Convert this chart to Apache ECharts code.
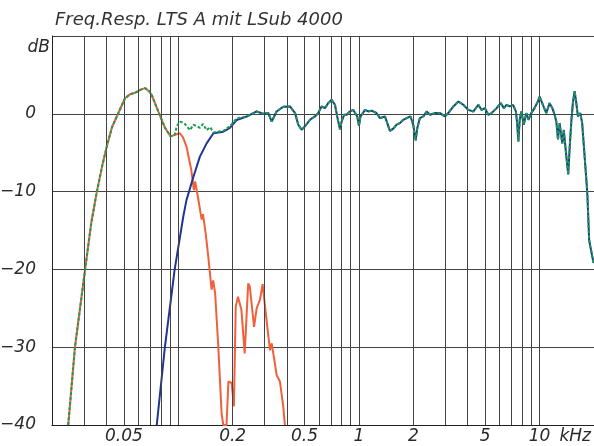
<!DOCTYPE html>
<html><head><meta charset="utf-8">
<script src="https://cdn.jsdelivr.net/npm/echarts/dist/echarts.min.js"></script>
<style>html,body{margin:0;padding:0;background:#fff}#c{width:594px;height:446px}</style>
</head><body><div id="c"></div>
<script>
// Frequencies in kHz, levels in dB
// common low-frequency part (subwoofer = sum)
const lowFreq = [0.0246, 0.0268, 0.0305, 0.0330, 0.0353, 0.0380, 0.0402, 0.0430, 0.0466, 0.0507, 0.0540, 0.0576, 0.0620, 0.0655, 0.0690, 0.0713, 0.0775, 0.0844, 0.0907, 0.0957];
const lowDb   = [-40, -30, -20, -14, -10.2, -6.6, -4.2, -1.7, 0.1, 2.0, 2.5, 2.7, 3.1, 3.3, 2.9, 2.4, 0.3, -1.8, -2.9, -2.7];
// subwoofer roll-off
const subTailFreq = [0.102, 0.106, 0.111, 0.118, 0.122, 0.124, 0.128, 0.1347, 0.137, 0.142, 0.1466, 0.1529, 0.156, 0.160, 0.1665, 0.1737, 0.1775, 0.1849, 0.1894, 0.1974, 0.2032, 0.208, 0.214, 0.2236, 0.2331, 0.2438, 0.2488, 0.2627, 0.2715, 0.2832, 0.293, 0.3079, 0.3218, 0.329, 0.3505, 0.3652, 0.381, 0.389];
const subTailDb   = [-2.5, -3.0, -4.2, -7.2, -9.8, -8.7, -10.5, -13.6, -12.9, -15.5, -18.4, -22.6, -21.4, -23.1, -29.9, -38.5, -40, -40, -34.4, -34.6, -37.6, -24.8, -23.5, -25.2, -30.8, -21.8, -22.2, -27.4, -25.0, -23.9, -21.9, -26.5, -30.4, -29.5, -33.6, -34.4, -37.6, -40];
// satellite high-pass rise
const satRiseFreq = [0.0760, 0.0844, 0.0954, 0.1066, 0.111, 0.1213, 0.1317, 0.1435, 0.1565, 0.1777, 0.193, 0.2104];
const satRiseDb   = [-40, -29.9, -20.1, -13.2, -11.1, -8.1, -5.5, -3.8, -2.5, -2.3, -1.8, -0.8];
// summed response in the crossover region
const xoverFreq = [0.098, 0.102, 0.108, 0.116, 0.1213, 0.1317, 0.137, 0.1435, 0.150, 0.1565, 0.1777, 0.193, 0.2104];
const xoverDb   = [-1.6, -1.0, -1.2, -2.1, -1.4, -1.8, -1.3, -2.1, -1.7, -2.4, -2.2, -1.6, -0.6];
// common high-frequency part (satellite = sum)
const highFreq = [0.239, 0.2715, 0.2954, 0.315, 0.329, 0.350, 0.381, 0.415, 0.443, 0.4615, 0.4817, 0.5025, 0.5356, 0.571, 0.595, 0.621, 0.6484, 0.676, 0.706, 0.7366, 0.758, 0.785, 0.802, 0.828, 0.855, 0.8917, 0.93, 0.95, 0.979, 1.0, 1.02, 1.08, 1.126, 1.175, 1.25, 1.307, 1.393, 1.484, 1.549, 1.616, 1.686, 1.759, 1.836, 1.93, 1.997, 2.06, 2.104, 2.174, 2.27, 2.37, 2.473, 2.632, 2.808, 2.99, 3.12, 3.33, 3.55, 3.78, 4.03, 4.30, 4.58, 4.77, 4.98, 5.20, 5.42, 5.78, 6.09, 6.34, 6.56, 6.84, 7.13, 7.39, 7.51, 7.63, 7.76, 7.93, 8.17, 8.44, 8.68, 8.99, 9.37, 9.78, 10.0, 10.43, 10.88, 11.36, 11.76, 12.11, 12.37, 12.64, 12.9, 13.35, 13.6, 14.0, 14.4, 14.68, 15.0, 15.3, 15.63, 15.96, 16.3, 16.8, 17.2, 17.8, 18.2, 18.4, 18.8, 19.1, 19.9];
const highDb   = [-0.35, 0.3, 0.0, 0.1, -1.0, 0.3, 0.9, 0.94, 0.09, -1.4, -2.06, -1.6, -0.77, -0.34, 0.09, 0.94, 0.73, 1.37, 1.8, 1.16, -0.34, -2.0, -0.99, -0.13, -0.13, 0.3, 0.5, 0.73, -0.34, -1.5, -0.34, 0.5, 0.3, 0.4, 0.1, -0.55, -0.34, -2.2, -1.9, -1.4, -1.2, -0.77, -0.55, -0.34, -1.4, -3.4, -1.84, -0.55, -0.34, 0.3, -0.13, 0.09, 0.1, -0.34, 0.1, 0.94, 1.58, 1.16, 0.5, 0.3, 1.16, 0.5, 0.73, -0.13, 0.09, 0.73, 1.37, 0.73, 1.16, 0.94, 1.16, 0.3, -1.2, -3.56, -0.77, 0.3, -1.4, 0.09, -0.77, 0.09, 0.73, 1.58, 2.2, 1.16, 0.09, 1.37, 0.73, -0.13, -0.99, -3.3, -1.2, -3.8, -2.06, -5.06, -7.8, -4.2, -0.77, 1.5, 2.9, 1.37, -0.34, 0.09, -1.2, -5.9, -8.9, -10.6, -16.2, -17.1, -19.2];
// axes
const gridFreqs = [0.03, 0.04, 0.05, 0.06, 0.07, 0.08, 0.09, 0.1, 0.2, 0.3, 0.4, 0.5, 0.6, 0.7, 0.8, 0.9, 1, 2, 3, 4, 5, 6, 7, 8, 9, 10];
const tickFreqs = [0.05, 0.2, 0.5, 1, 2, 5, 10];
const tickLabels = ['0.05', '0.2', '0.5', '1', '2', '5', '10'];
const yTicks = [-40, -30, -20, -10, 0];
const yLabels = ['\u221240', '\u221230', '\u221220', '\u221210', '0'];

const pair = (fs, ds) => fs.map((f, i) => [f, ds[i]]);
const subData = pair(lowFreq.concat(subTailFreq), lowDb.concat(subTailDb));
const satData = pair(satRiseFreq.concat(highFreq), satRiseDb.concat(highDb));
const sumData = pair(lowFreq.concat(xoverFreq, highFreq), lowDb.concat(xoverDb, highDb));

const FONT = 'DejaVu Sans';
const txt = {fontFamily: FONT, fontStyle: 'italic', fontSize: 17, color: '#2a2a2a'};

const gridLines = gridFreqs.map(f => {
  const k = tickFreqs.indexOf(f);
  return {xAxis: f, label: k >= 0 ? {show: true, formatter: tickLabels[k]} : {show: false}};
});

const chart = echarts.init(document.getElementById('c'), null, {renderer: 'canvas'});
chart.setOption({
  animation: false,
  backgroundColor: '#fff',
  title: {text: 'Freq.Resp. LTS A mit LSub 4000', left: 50, top: 6,
    textStyle: Object.assign({}, txt, {fontSize: 18, fontWeight: 'normal', color: '#333'})},
  grid: {left: 52, right: 0, top: 36, bottom: 21, containLabel: false, outerBoundsMode: 'none'},
  xAxis: {type: 'log', logBase: 10, min: 0.02, max: 20,
    name: 'kHz', nameLocation: 'end', nameGap: -3,
    nameTextStyle: Object.assign({}, txt, {align: 'right', verticalAlign: 'top', padding: [3, 0, 0, 0]}),
    axisLine: {show: true, onZero: false, lineStyle: {color: '#222', width: 1}},
    axisTick: {show: false}, axisLabel: {show: false}, splitLine: {show: false}, minorTick: {show: false}},
  yAxis: {type: 'value', min: -40, max: 10, interval: 10,
    name: 'dB', nameLocation: 'end', nameGap: -3,
    nameTextStyle: Object.assign({}, txt, {align: 'right', verticalAlign: 'top', padding: [0, 2, 0, 0]}),
    axisLine: {show: true, onZero: false, lineStyle: {color: '#222', width: 1}},
    axisTick: {show: false},
    axisLabel: Object.assign({}, txt, {margin: 16, formatter: v => { const k = yTicks.indexOf(v); return k >= 0 ? yLabels[k] : ''; }}),
    splitLine: {show: true, lineStyle: {color: '#444', width: 1}}},
  series: [
    {name: 'grid', type: 'line', data: [], silent: true,
      markLine: {silent: true, symbol: ['none', 'none'], animation: false,
        lineStyle: {color: '#444', width: 1, type: 'solid'},
        label: Object.assign({}, txt, {position: 'start', distance: 3}),
        emphasis: {disabled: true},
        data: gridLines}},
    {name: 'LSub 4000', type: 'line', data: subData, symbol: 'none', z: 3,
      lineStyle: {color: '#f0603a', width: 2}},
    {name: 'LTS A', type: 'line', data: satData, symbol: 'none', z: 4,
      lineStyle: {color: '#1f3593', width: 2}},
    {name: 'Summe', type: 'line', data: sumData, symbol: 'none', z: 5,
      lineStyle: {color: '#1c9a55', width: 2, type: [3, 2]}}
  ]
});
</script></body></html>
